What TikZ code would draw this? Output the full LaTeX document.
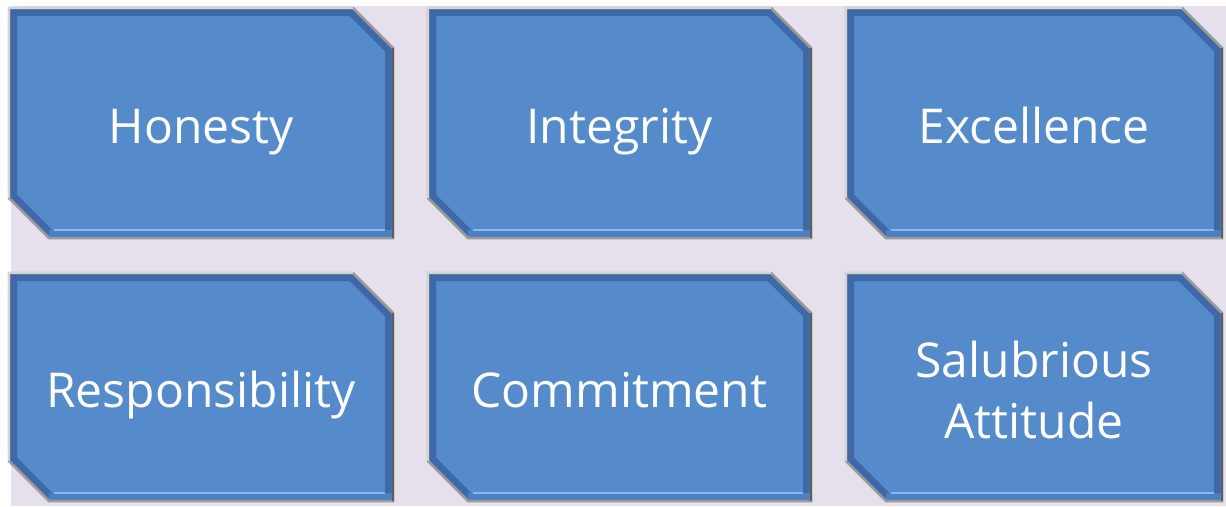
\documentclass[tikz,border=0pt]{standalone}
\usepackage{fontspec}
\setmainfont{Open Sans}
\usetikzlibrary{backgrounds}
\definecolor{boxblue}{HTML}{558ACB}
\definecolor{bevelblue}{HTML}{3E69A6}
\definecolor{bandblue}{HTML}{4B80C2}
\definecolor{glowblue}{HTML}{86B8F2}
\definecolor{lavender}{HTML}{E5E0EC}
\definecolor{rimgray}{HTML}{9A9A9A}
\definecolor{rimlight}{HTML}{D4D4D4}
\definecolor{rimdark}{HTML}{5E5E5E}

\tikzset{
	chamfer/.style={insert path={([xshift=-40pt]#1.north east) -- ([yshift=-40pt]#1.north east) -- (#1.south east) -- ([xshift=40pt]#1.south west) -- ([yshift=40pt]#1.south west) -- (#1.north west) -- cycle}},
}

\begin{document}
\begin{tikzpicture}[x=1pt, y=-1pt,
					valuebox/.style={minimum width=#1, minimum height=230pt, inner sep=0pt, outer sep=0pt,
						text=white, align=center, font=\fontsize{48}{61}\selectfont, text height=40pt, text depth=0pt},]
					\useasboundingbox (0,0) rectangle (1226,506);

					\node[valuebox=384pt] (honesty) at (201,123) {Honesty};
					\node[valuebox=383pt] (integrity) at (619.5,123) {Integrity};
					\node[valuebox=376pt] (excellence) at (1034,123) {Excellence};

					\node[valuebox=384pt, minimum height=228pt] (responsibility) at (201,387) {Responsibility};
					\node[valuebox=383pt, minimum height=228pt] (commitment) at (619.5,387) {Commitment};
					\node[valuebox=376pt, minimum height=228pt, text height=102pt] (salubrious) at (1034,387) {Salubrious\\Attitude};

					% bevelled boxes behind the labels
					\begin{scope}[on background layer]
						\fill[white] (0,0) rectangle (1226,506);
						\fill[lavender] (11,6) rectangle (1226,506);
						\foreach \n in {honesty,integrity,excellence,responsibility,commitment,salubrious}{
							\fill[boxblue, chamfer=\n];
							\begin{scope}
								\clip[chamfer=\n];
								\draw[bevelblue, line width=16pt, chamfer=\n];
								\draw[bandblue, line width=16pt] ([xshift=40pt]\n.south west) -- (\n.south east);
								\draw[glowblue, line width=2pt] ([xshift=45pt, yshift=8pt]\n.south west) -- ([xshift=-8pt, yshift=8pt]\n.south east);
							\end{scope}
							\draw[rimgray, line width=2.5pt, chamfer=\n];
							\draw[rimlight, line width=2.5pt] ([yshift=40pt]\n.south west) -- (\n.north west) -- ([xshift=-40pt]\n.north east);
							\draw[rimdark, line width=2.5pt] ([yshift=-40pt]\n.north east) -- (\n.south east);
						}
					\end{scope}
				\end{tikzpicture}
\end{document}
